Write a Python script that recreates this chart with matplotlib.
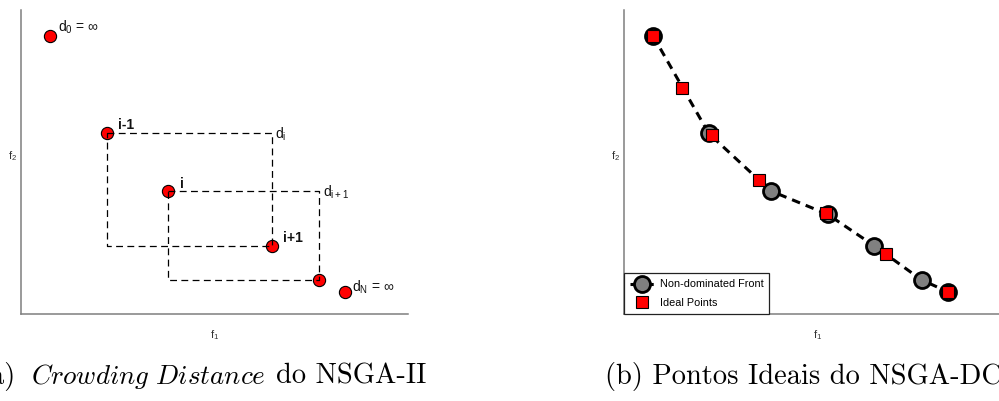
import matplotlib
matplotlib.use('Agg')
import matplotlib.pyplot as plt

W, H = 999, 401

# left panel: crowding distance points (axes units 0..100)
cd_x = [7.5, 22.2, 38.0, 64.9, 77.0, 83.7]
cd_y = [91.4, 59.5, 40.5, 22.4, 11.2, 7.2]
cd_labels = [r'$\mathregular{d_0}$ = ∞', 'i-1', 'i', 'i+1', '', r'$\mathregular{d_N}$ = ∞']

# right panel: non-dominated front and ideal points
front_x = [7.5, 21.9, 37.9, 52.6, 64.7, 76.9, 83.7]
front_y = [91.5, 59.4, 40.5, 32.8, 22.4, 11.2, 7.3]
ideal_x = [7.5, 15.0, 22.7, 34.8, 52.3, 67.7, 83.7]
ideal_y = [91.5, 74.3, 58.9, 44.2, 33.1, 19.7, 7.3]

fig = plt.figure(figsize=(W / 100, H / 100), dpi=100)


def make_axes(px_left):
    ax = fig.add_axes([px_left / W, (H - 314) / H, 387 / W, 304 / H])
    ax.set_xlim(0, 100)
    ax.set_ylim(0, 100)
    ax.set_xticks([])
    ax.set_yticks([])
    for s in ['top', 'right']:
        ax.spines[s].set_visible(False)
    for s in ['left', 'bottom']:
        ax.spines[s].set_color('#7f7f7f')
        ax.spines[s].set_linewidth(1.1)
    ax.text(0.5, -0.069, r'$\mathregular{f_1}$', transform=ax.transAxes,
            ha='center', va='center', family='Liberation Sans', size=8, color='#333333')
    ax.text(-0.021, 0.52, r'$\mathregular{f_2}$', transform=ax.transAxes,
            ha='center', va='center', family='Liberation Sans', size=8, color='#333333')
    return ax


# ---- (a) crowding distance
ax1 = make_axes(21)
ax1.plot(cd_x, cd_y, 'o', ms=8.8, mfc='#ff0000', mec='black', mew=0.8, zorder=2)

dash = (0, (5.5, 3.5))
for a, b in [(1, 3), (2, 4)]:
    xs = [cd_x[a], cd_x[b], cd_x[b], cd_x[a], cd_x[a]]
    ys = [cd_y[a], cd_y[a], cd_y[b], cd_y[b], cd_y[a]]
    ax1.plot(xs, ys, color='black', lw=0.9, linestyle=dash, zorder=3)

offsets = [(8, 9), (11, 8), (12, 7), (11, 8), (0, 0), (7, 5)]
for k, lab in enumerate(cd_labels):
    if not lab:
        continue
    bold = lab.startswith('i')
    ax1.annotate(lab, (cd_x[k], cd_y[k]), xytext=offsets[k], textcoords='offset pixels',
                 ha='left', va='center', family='Liberation Sans', size=10,
                 weight='bold' if bold else 'normal', color='#111111')

ax1.annotate(r'$\mathregular{d_i}$', (cd_x[3], cd_y[1]), xytext=(3, -1), textcoords='offset pixels',
             ha='left', va='center', family='Liberation Sans', size=10, color='#111111')
ax1.annotate(r'$\mathregular{d_{i+1}}$', (cd_x[4], cd_y[2]), xytext=(4, -1), textcoords='offset pixels',
             ha='left', va='center', family='Liberation Sans', size=10, color='#111111')

# ---- (b) ideal points
ax2 = make_axes(624)
ax2.plot(front_x, front_y, color='black', lw=2.2, linestyle=(0, (2.8, 2.0)),
         marker='o', ms=11.5, mfc='#808080', mec='black', mew=2.0,
         label='Non-dominated Front', zorder=2)
ax2.plot(ideal_x, ideal_y, 's', ms=8, mfc='#ff0000', mec='black', mew=0.8,
         label='Ideal Points', zorder=3)
leg = ax2.legend(loc='lower left', borderaxespad=0, fancybox=False, framealpha=1,
                 prop={'family': 'Liberation Sans', 'size': 7.8}, handlelength=2.3,
                 borderpad=0.55, labelspacing=0.8, handletextpad=0.45)
leg.get_frame().set_edgecolor('#222222')
leg.get_frame().set_linewidth(0.9)
leg.set_zorder(5)

# ---- captions
BASE = 384


def put(s, px, size=20.5, ha='left'):
    fig.text(px / W, 1 - BASE / H, s, family='cmr10', math_fontfamily='cm',
             size=size, va='baseline', ha=ha)


put('(a)', 15, ha='right')
put(r'$\mathit{Crowding\ Distance}$', 31, size=19.5)
put('do NSGA-II', 276)
put('(b) Pontos Ideais do NSGA-DCD', 605)

fig.savefig('out.png', dpi=100)
